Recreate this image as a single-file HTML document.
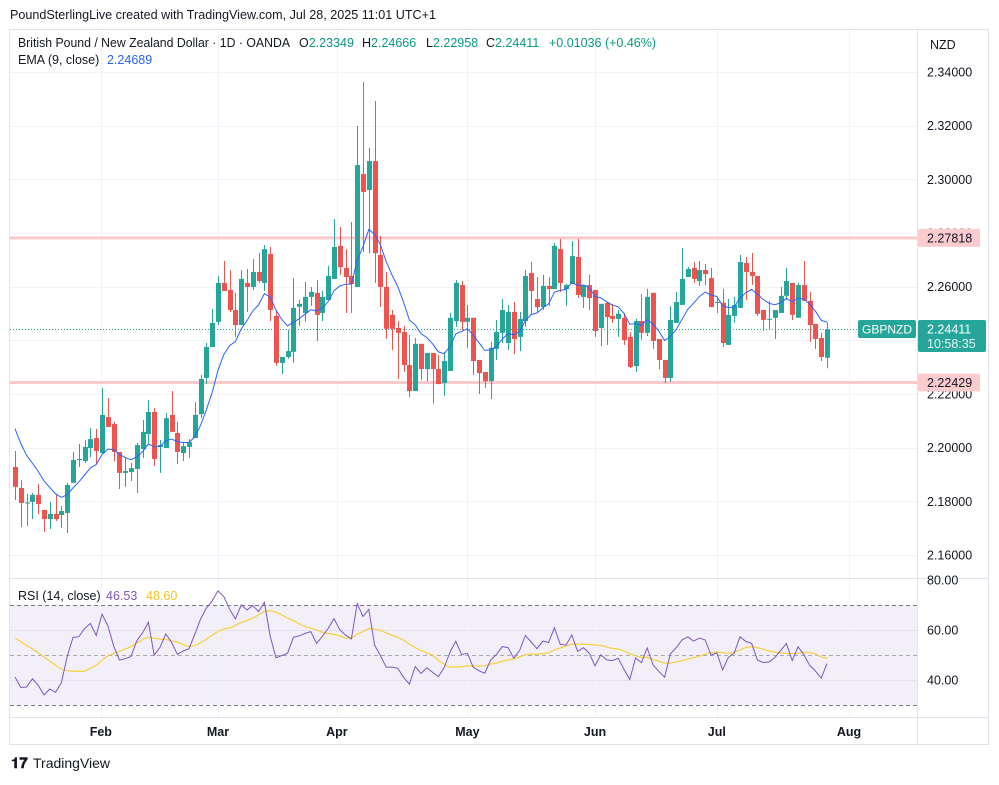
<!DOCTYPE html>
<html><head><meta charset="utf-8">
<style>
html,body{margin:0;padding:0;background:#fff;}
body{width:999px;height:780px;overflow:hidden;font-family:"Liberation Sans",sans-serif;}
svg text{font-family:"Liberation Sans",sans-serif;}
</style></head>
<body>
<svg id="chart" width="999" height="780" viewBox="0 0 999 780" xmlns="http://www.w3.org/2000/svg">
  <text x="10" y="19" font-size="13" fill="#131722" textLength="426" lengthAdjust="spacingAndGlyphs">PoundSterlingLive created with TradingView.com, Jul 28, 2025 11:01 UTC+1</text>
  <rect x="9.5" y="29.5" width="979" height="715" fill="none" stroke="#e0e3eb"/>
  <rect x="10" y="605" width="907" height="100" fill="#f2eff9"/>
  <g id="grid"></g>
  <g id="levels"></g>
  <g id="candles"></g>
  <g id="ema"></g>
  <g id="rsi"></g>
  <line x1="917.5" y1="30" x2="917.5" y2="744" stroke="#e0e3eb"/>
  <line x1="10" y1="578.5" x2="988" y2="578.5" stroke="#e0e3eb"/>
  <line x1="10" y1="717.5" x2="988" y2="717.5" stroke="#e0e3eb"/>
  <g id="axes"></g>
  <g font-size="12.5">
    <text x="18" y="47" fill="#131722" textLength="272" lengthAdjust="spacingAndGlyphs">British Pound / New Zealand Dollar · 1D · OANDA</text>
    <text y="47" fill="#131722"><tspan x="299">O</tspan><tspan fill="#089981">2.23349</tspan><tspan x="362">H</tspan><tspan fill="#089981">2.24666</tspan><tspan x="426">L</tspan><tspan fill="#089981">2.22958</tspan><tspan x="486">C</tspan><tspan fill="#089981">2.24411</tspan><tspan x="549" fill="#089981">+0.01036 (+0.46%)</tspan></text>
    <text x="18" y="64" fill="#131722">EMA (9, close) <tspan x="107" fill="#2962ff">2.24689</tspan></text>
    <text x="18" y="600" fill="#131722">RSI (14, close) <tspan x="106" fill="#7e57c2">46.53</tspan><tspan x="146" fill="#f2c21b">48.60</tspan></text>
  </g>
  <g>
    <rect x="919" y="31" width="68" height="27" fill="#fff"/>
    <text x="930" y="49" font-size="12.5" fill="#131722">NZD</text>
  </g>
  <g>
    <text x="11" y="768" font-size="15" font-weight="bold" fill="#131722">𝟏𝟕</text>
    <text x="33" y="768" font-size="14" fill="#131722">TradingView</text>
  </g>
</svg>
<script>
const opens=[2.1928,2.1850,2.1794,2.1798,2.1824,2.1768,2.1734,2.1753,2.1749,2.1757,
2.1869,2.1954,2.1950,2.1999,2.2036,2.1980,2.2114,2.2088,2.1984,2.1906,
2.1909,2.1921,2.1995,2.2051,2.2133,2.2003,2.1999,2.2122,2.2055,2.1980,
2.2003,2.2036,2.2125,2.2260,2.2375,2.2469,2.2614,2.2588,2.2513,2.2457,
2.2614,2.2599,2.2655,2.2614,2.2722,2.2491,2.2316,2.2338,2.2357,2.2525,
2.2502,2.2562,2.2577,2.2502,2.2550,2.2629,2.2752,2.2670,2.2640,2.2599,
2.3020,2.2960,2.3068,2.2718,2.2599,2.2495,2.2446,2.2431,2.2308,2.2211,
2.2387,2.2293,2.2353,2.2293,2.2241,2.2286,2.2472,2.2606,2.2469,2.2484,
2.2327,2.2282,2.2248,2.2368,2.2428,2.2390,2.2506,2.2413,2.2472,2.2651,
2.2554,2.2524,2.2603,2.2591,2.2740,2.2591,2.2610,2.2711,2.2562,2.2606,
2.2588,2.2446,2.2540,2.2491,2.2480,2.2484,2.2413,2.2304,2.2472,2.2428,
2.2577,2.2405,2.2327,2.2260,2.2465,2.2532,2.2636,2.2670,2.2621,2.2662,
2.2632,2.2540,2.2540,2.2383,2.2491,2.2521,2.2688,2.2655,2.2640,2.2513,
2.2478,2.2484,2.2502,2.2566,2.2614,2.2484,2.2606,2.2547,2.2461,2.2409,
2.2335];
const highs=[2.1988,2.1880,2.1828,2.1831,2.1865,2.1768,2.1798,2.1824,2.1783,2.1869,
2.1984,2.2014,2.2029,2.2073,2.2070,2.2222,2.2185,2.2096,2.1984,2.1965,
2.1943,2.2018,2.2103,2.2178,2.2148,2.2029,2.2129,2.2211,2.2096,2.2021,
2.2032,2.2170,2.2271,2.2390,2.2517,2.2640,2.2696,2.2662,2.2577,2.2662,
2.2666,2.2703,2.2726,2.2755,2.2748,2.2513,2.2338,2.2439,2.2632,2.2551,
2.2618,2.2599,2.2625,2.2584,2.2677,2.2852,2.2822,2.2740,2.2841,2.3199,
2.3363,2.3117,2.3292,2.2789,2.2655,2.2513,2.2472,2.2454,2.2420,2.2409,
2.2387,2.2353,2.2353,2.2345,2.2357,2.2502,2.2625,2.2621,2.2532,2.2484,
2.2327,2.2282,2.2394,2.2476,2.2554,2.2532,2.2543,2.2506,2.2662,2.2692,
2.2636,2.2644,2.2636,2.2763,2.2778,2.2610,2.2770,2.2778,2.2606,2.2644,
2.2588,2.2536,2.2540,2.2536,2.2513,2.2502,2.2431,2.2480,2.2573,2.2592,
2.2577,2.2405,2.2327,2.2528,2.2580,2.2744,2.2673,2.2692,2.2696,2.2685,
2.2670,2.2562,2.2592,2.2554,2.2562,2.2718,2.2711,2.2726,2.2640,2.2513,
2.2547,2.2513,2.2599,2.2670,2.2614,2.2614,2.2696,2.2580,2.2461,2.2428,
2.2467];
const lows=[2.1805,2.1704,2.1708,2.1734,2.1753,2.1686,2.1697,2.1727,2.1701,2.1682,
2.1869,2.1928,2.1943,2.1965,2.1939,2.1977,2.2077,2.1950,2.1846,2.1854,
2.1876,2.1831,2.1962,2.2018,2.1932,2.1906,2.1999,2.2059,2.1939,2.1950,
2.1962,2.2036,2.2110,2.2237,2.2375,2.2457,2.2584,2.2506,2.2413,2.2457,
2.2506,2.2588,2.2614,2.2584,2.2472,2.2305,2.2275,2.2331,2.2316,2.2454,
2.2469,2.2528,2.2398,2.2472,2.2550,2.2629,2.2644,2.2502,2.2502,2.2599,
2.2729,2.2725,2.2614,2.2524,2.2405,2.2364,2.2256,2.2282,2.2189,2.2211,
2.2252,2.2248,2.2164,2.2237,2.2193,2.2286,2.2450,2.2439,2.2372,2.2271,
2.2200,2.2222,2.2181,2.2327,2.2390,2.2364,2.2349,2.2360,2.2450,2.2495,
2.2502,2.2513,2.2528,2.2591,2.2580,2.2528,2.2610,2.2558,2.2521,2.2513,
2.2413,2.2379,2.2383,2.2465,2.2413,2.2383,2.2297,2.2282,2.2402,2.2416,
2.2368,2.2293,2.2241,2.2245,2.2465,2.2532,2.2636,2.2614,2.2603,2.2606,
2.2524,2.2502,2.2375,2.2383,2.2465,2.2521,2.2550,2.2606,2.2491,2.2435,
2.2443,2.2405,2.2502,2.2551,2.2476,2.2484,2.2547,2.2394,2.2368,2.2323,
2.2296];
const closes=[2.1854,2.1794,2.1796,2.1824,2.1790,2.1734,2.1753,2.1734,2.1764,2.1861,
2.1954,2.1958,2.2003,2.2032,2.1988,2.2122,2.2077,2.1984,2.1906,2.1913,
2.1924,2.2010,2.2059,2.2133,2.1958,2.2010,2.2110,2.2059,2.1984,2.2006,
2.2021,2.2122,2.2256,2.2375,2.2465,2.2614,2.2584,2.2513,2.2457,2.2629,
2.2599,2.2655,2.2621,2.2740,2.2513,2.2316,2.2338,2.2360,2.2521,2.2536,
2.2562,2.2580,2.2495,2.2562,2.2640,2.2748,2.2673,2.2636,2.2610,2.3053,
2.2953,2.3068,2.2725,2.2599,2.2443,2.2443,2.2428,2.2308,2.2211,2.2387,
2.2293,2.2353,2.2293,2.2237,2.2323,2.2484,2.2614,2.2469,2.2484,2.2323,
2.2278,2.2248,2.2372,2.2431,2.2513,2.2506,2.2405,2.2480,2.2640,2.2584,
2.2524,2.2603,2.2591,2.2752,2.2614,2.2606,2.2714,2.2569,2.2606,2.2558,
2.2435,2.2536,2.2487,2.2480,2.2499,2.2401,2.2301,2.2472,2.2428,2.2562,
2.2398,2.2327,2.2260,2.2476,2.2543,2.2629,2.2666,2.2629,2.2662,2.2647,
2.2524,2.2543,2.2390,2.2495,2.2532,2.2692,2.2655,2.2640,2.2499,2.2476,
2.2480,2.2513,2.2566,2.2621,2.2495,2.2606,2.2547,2.2457,2.2405,2.2338,
2.2441];
const priceTicks=[2.16,2.18,2.20,2.22,2.24,2.26,2.28,2.30,2.32,2.34];
const rsiTicks=[40,60,80];
const monthLabels=["Feb","Mar","Apr","May","Jun","Jul","Aug"];
const monthIndex=[14.8,35.0,55.5,78.0,100.0,121.0,143.8];
const levelValues=[2.27818,2.22429];
const lastPrice=2.24411;
const emaSeed=2.2125;
const rsiSeedGain=0.0018, rsiSeedLoss=0.0020, rsiMaSeed=59;

const NS="http://www.w3.org/2000/svg";
const xOf=i=>15+i*5.8;
const yP=p=>72+(2.34-p)*2683.5;
const yR=v=>705-(v-30)*2.5;
function mk(tag,attrs,parent){const e=document.createElementNS(NS,tag);for(const k in attrs)e.setAttribute(k,attrs[k]);parent.appendChild(e);return e;}

const grid=document.getElementById('grid');
priceTicks.forEach(p=>{
  const l=mk('line',{x1:10,x2:917,y1:Math.round(yP(p))+0.5,y2:Math.round(yP(p))+0.5,stroke:'#f0f3fa'},grid);
  
  
});
[60,40].forEach(v=>{
  const l=mk('line',{x1:10,x2:917,y1:yR(v)+0.5,y2:yR(v)+0.5,stroke:'#e6e1f2'},grid);
  
  
});
monthIndex.forEach(mi=>{
  const x=Math.round(xOf(mi))+0.5;
  const l=mk('line',{x1:x,x2:x,y1:30,y2:717,stroke:'#f0f3fa'},grid);
  
  
});
[[70,'#787b86'],[50,'#a8a8b0'],[30,'#787b86']].forEach(([v,c])=>{
  const l=mk('line',{x1:10,x2:917,y1:yR(v)+0.5,y2:yR(v)+0.5,stroke:c,'stroke-dasharray':'4 3'},grid);
  
  
});

const lv=document.getElementById('levels');
levelValues.forEach(p=>{
  const l=mk('line',{x1:10,x2:917,y1:yP(p),y2:yP(p),stroke:'#f9c9cc','stroke-width':3},lv);
  
  
});
const dl=mk('line',{x1:10,x2:858,y1:Math.round(yP(lastPrice))+0.5,y2:Math.round(yP(lastPrice))+0.5,stroke:'#26a69a','stroke-dasharray':'1 2'},lv);



const cg=document.getElementById('candles');
for(let i=0;i<closes.length;i++){
  const up=closes[i]>=opens[i];
  const col=up?'#26a69a':'#ef5350';
  const cx=Math.round(xOf(i));
  const w=mk('rect',{x:cx,y:yP(highs[i]),width:1,height:Math.max(1,yP(lows[i])-yP(highs[i])),fill:col},cg);
  
  
  const top=yP(Math.max(opens[i],closes[i])),bot=yP(Math.min(opens[i],closes[i]));
  const b=mk('rect',{x:cx-2,y:top,width:5,height:Math.max(1,bot-top),fill:col},cg);
  
  
}

let e=emaSeed;const emaPts=[];
closes.forEach((c,i)=>{e=c*0.2+e*0.8;emaPts.push(xOf(i).toFixed(1)+','+yP(e).toFixed(1));});
const ep=mk('polyline',{points:emaPts.join(' '),fill:'none',stroke:'#2962ff','stroke-width':1},document.getElementById('ema'));



let ag=rsiSeedGain,al=rsiSeedLoss;const rsiVals=[100-100/(1+ag/al)];
closes.forEach((c,i)=>{
  const ch=c-(i===0?opens[0]:closes[i-1]);
  ag=(ag*13+Math.max(ch,0))/14;al=(al*13+Math.max(-ch,0))/14;
  rsiVals.push(100-100/(1+ag/al));
});
const rx=i=>xOf(i-1);
const rsiPts=rsiVals.map((v,i)=>i===0?null:rx(i).toFixed(1)+','+yR(v).toFixed(1)).filter(Boolean);
const maPts=rsiVals.map((v,i)=>{if(i===0)return null;let s=0;for(let k=i-13;k<=i;k++)s+=(k<0?rsiMaSeed:rsiVals[k]);return rx(i).toFixed(1)+','+yR(s/14).toFixed(1);}).filter(Boolean);
const rg=document.getElementById('rsi');
const mp=mk('polyline',{points:maPts.join(' '),fill:'none',stroke:'#f5d13a','stroke-width':1.2},rg);


const rp=mk('polyline',{points:rsiPts.join(' '),fill:'none',stroke:'#7e57c2','stroke-width':1},rg);



const ax=document.getElementById('axes');
priceTicks.forEach(p=>{
  const y=yP(p);if(y<62||y>570)return;
  const t=mk('text',{x:927,y:y+4.5,'font-size':12.5,fill:'#131722'},ax);t.textContent=p.toFixed(5);
  
  
});
rsiTicks.forEach(v=>{
  const t=mk('text',{x:927,y:yR(v)+4.5,'font-size':12.5,fill:'#131722'},ax);t.textContent=v.toFixed(2);
  
  
});
monthLabels.forEach((m,i)=>{
  const t=mk('text',{x:xOf(monthIndex[i]),y:736,'font-size':12.5,'font-weight':'bold','text-anchor':'middle',fill:'#131722'},ax);t.textContent=m;
  
  
});
levelValues.forEach(p=>{
  const y=yP(p);
  const r=mk('rect',{x:918,y:y-9,width:62,height:18,rx:2,fill:'#fccbcd'},ax);
  
  
  const t=mk('text',{x:927,y:y+4.5,'font-size':12.5,fill:'#131722'},ax);t.textContent=p.toFixed(5);
  
  
});
const yl=Math.round(yP(lastPrice));
const sb=mk('rect',{x:858,y:yl-9,width:58,height:18,rx:2,fill:'#26a69a'},ax);


const st=mk('text',{x:887,y:yl+4.5,'font-size':12,fill:'#fff','text-anchor':'middle'},ax);st.textContent='GBPNZD';


const pb=mk('rect',{x:918,y:yl-9,width:68,height:32,rx:2,fill:'#26a69a'},ax);


const pt=mk('text',{x:927,y:yl+4.5,'font-size':12.5,fill:'#fff'},ax);pt.textContent=lastPrice.toFixed(5);


const ct=mk('text',{x:927,y:yl+19,'font-size':12.5,fill:'#e6f5f3'},ax);ct.textContent='10:58:35';


</script>
</body></html>
